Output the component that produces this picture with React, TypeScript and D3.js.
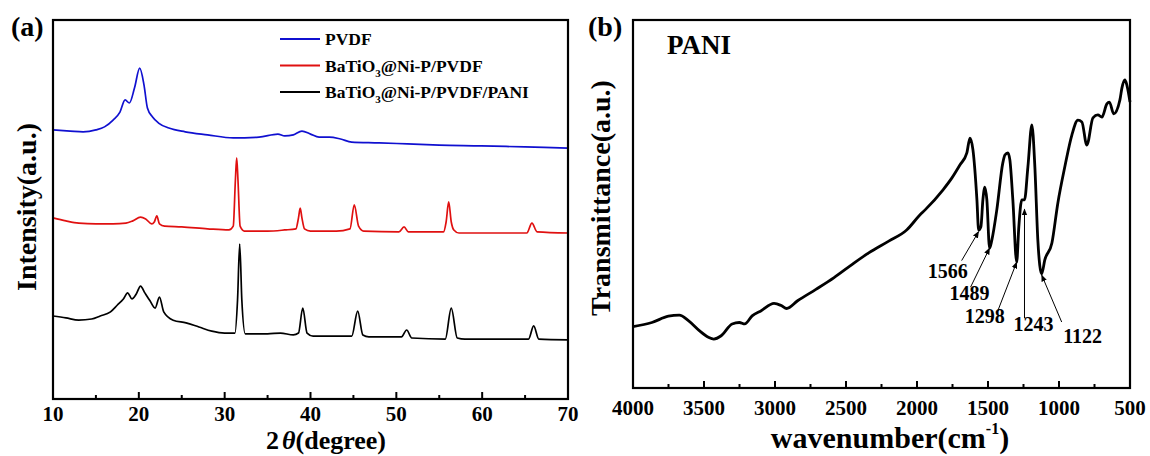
import React from "react";
import * as d3 from "d3";

const W = 1150;
const H = 456;
const FONT = "'Liberation Serif', 'Times New Roman', serif";

// ---- (a) XRD patterns: 2θ (degree) and stacked intensity (a.u.) ----
const pvdfTheta = [10, 12, 13.5, 15, 16, 17, 17.8, 18.4, 18.9, 19.5, 20.1, 20.6, 21, 21.6, 22.3, 23.5, 25.4, 28, 31, 34, 36.2, 37, 38, 39, 40, 41, 42.2, 43.5, 44.8, 48, 51.3, 55, 59.9, 65, 70];
const pvdfInt = [71.0, 70.7, 70.5, 71.0, 71.8, 73.6, 75.7, 78.9, 78.1, 82.1, 87.3, 82.9, 76.8, 74.4, 72.8, 71.5, 70.5, 69.7, 68.9, 69.1, 69.9, 69.4, 69.7, 70.7, 69.9, 69.1, 69.1, 68.6, 67.8, 67.6, 67.3, 67.0, 66.8, 66.5, 66.2];

const btoTheta = [10, 11.5, 13, 15, 17, 18.5, 19.3, 20.2, 20.8, 21.5, 21.8, 22.1, 22.4, 23, 25, 28, 30.5, 31.0, 31.25, 31.4, 31.55, 31.8, 32.3, 35, 37, 38.3, 38.6, 38.8, 39.0, 39.3, 40, 43, 44.6, 45.1, 45.6, 46.2, 50.3, 50.9, 51.4, 55.5, 55.8, 56.1, 56.4, 56.7, 57.3, 65.2, 65.8, 66.4, 70];
const btoInt = [47.8, 47.0, 46.4, 46.2, 46.2, 46.4, 47.0, 48.0, 47.5, 46.2, 46.7, 48.3, 46.2, 45.6, 45.4, 44.9, 44.6, 45.6, 57.8, 63.6, 57.8, 45.6, 44.3, 44.3, 44.6, 44.9, 47.8, 50.4, 47.8, 44.9, 44.3, 44.3, 44.9, 51.2, 45.6, 44.3, 44.1, 45.4, 44.1, 44.1, 46.7, 52.0, 46.7, 44.6, 43.8, 43.8, 46.4, 44.1, 43.8];

const paniTheta = [10, 11.5, 13, 14.5, 15.5, 16.7, 17.5, 18.2, 18.7, 19.2, 19.7, 20.2, 20.7, 21.3, 21.9, 22.4, 22.9, 24, 25.5, 27, 28.5, 30, 31.2, 31.5, 31.75, 32.0, 32.4, 35, 36.5, 38, 38.6, 39.1, 39.6, 40.3, 44.8, 45.5, 46.1, 46.8, 50.6, 51.2, 51.8, 55.7, 56.4, 57.1, 58, 65.4, 66.0, 66.6, 70];
const paniInt = [21.9, 21.4, 20.8, 21.1, 21.9, 23.0, 24.8, 26.4, 28.0, 26.4, 27.7, 29.8, 28.0, 25.9, 24.0, 26.9, 23.0, 20.8, 20.1, 19.0, 17.9, 17.4, 17.4, 26.1, 40.9, 26.1, 17.2, 17.2, 17.4, 16.9, 17.4, 24.0, 17.4, 16.6, 16.6, 23.2, 16.9, 16.4, 16.4, 18.2, 16.1, 15.8, 24.0, 16.1, 15.8, 15.8, 19.3, 15.8, 15.6];

const xrdSeries = [
  { name: "PVDF", color: "#1010d0", theta: pvdfTheta, value: pvdfInt },
  { name: "BaTiO3@Ni-P/PVDF", color: "#e01010", theta: btoTheta, value: btoInt },
  { name: "BaTiO3@Ni-P/PVDF/PANI", color: "#000000", theta: paniTheta, value: paniInt },
];

const xrdMajorTicks = [10, 20, 30, 40, 50, 60, 70];
const xrdMinorTicks = [15, 25, 35, 45, 55, 65];

// ---- (b) FTIR spectrum of PANI ----
const ftirWave = [4000, 3867, 3751, 3674, 3610, 3533, 3469, 3431, 3379, 3302, 3251, 3213, 3161, 3097, 3007, 2956, 2918, 2841, 2712, 2584, 2456, 2340, 2199, 2071, 1980, 1943, 1818, 1754, 1698, 1649, 1627, 1606, 1578, 1566, 1550, 1536, 1522, 1508, 1489, 1473, 1438, 1396, 1381, 1360, 1346, 1325, 1298, 1283, 1262, 1243, 1219, 1191, 1170, 1149, 1122, 1100, 1050, 1008, 959, 909, 867, 839, 804, 761, 726, 698, 663, 645, 615, 571, 557, 536, 522, 500];
const ftirTrans = [16.7, 17.8, 19.5, 19.8, 18.3, 15.6, 13.8, 13.3, 14.2, 17.4, 17.8, 17.4, 19.6, 21.0, 23.0, 22.4, 21.6, 23.7, 26.8, 30.0, 33.6, 36.7, 39.9, 43.0, 47.0, 48.4, 53.8, 57.1, 60.6, 63.9, 67.9, 64.7, 51.1, 42.9, 43.8, 51.1, 54.6, 51.1, 38.0, 40.2, 48.4, 61.1, 63.3, 63.9, 62.0, 51.1, 34.2, 43.8, 51.1, 51.1, 60.1, 71.5, 60.1, 40.2, 31.0, 34.8, 39.4, 50.3, 60.1, 68.8, 72.8, 72.3, 66.0, 73.4, 74.2, 73.6, 77.2, 77.7, 74.5, 78.3, 81.5, 83.7, 82.3, 77.7];

const ftirMajorTicks = [4000, 3500, 3000, 2500, 2000, 1500, 1000, 500];
const ftirMinorTicks = [3750, 3250, 2750, 2250, 1750, 1250, 750];

// marked absorption bands and the transmittance at each arrow tip
const bandLabels = ["1566", "1489", "1298", "1243", "1122"];
const bandWave = [1566, 1489, 1298, 1243, 1122];
const bandTipValue = [42.5, 38.0, 34.2, 48.6, 30.7];

// arrow tail and label offsets (px) relative to each arrow tip
const bandLayout = [
  { tx: -17, ty: 29, lx: -31, ly: 46 },
  { tx: -19, ty: 39, lx: -20, ly: 52 },
  { tx: -19, ty: 49, lx: -32, ly: 61 },
  { tx: 0, ty: 109, lx: 9, ly: 122 },
  { tx: 20, ty: 47, lx: 41, ly: 68 },
];

// plot frames
const A = { left: 53, right: 568, top: 20, bottom: 399 };
const B = { left: 633, right: 1130, top: 20, bottom: 388 };

export default function App() {
  const xA = d3.scaleLinear().domain([10, 70]).range([A.left, A.right]);
  const yA = d3.scaleLinear().domain([0, 100]).range([A.bottom, A.top]);
  const xB = d3.scaleLinear().domain([4000, 500]).range([B.left, B.right]);
  const yB = d3.scaleLinear().domain([0, 100]).range([B.bottom, B.top]);

  const lineA = (theta: number[], value: number[]) =>
    d3
      .line<number>()
      .x((_, i) => xA(theta[i]))
      .y((v) => yA(v))
      .curve(d3.curveMonotoneX)(value) || "";

  const ftirPath =
    d3
      .line<number>()
      .x((_, i) => xB(ftirWave[i]))
      .y((v) => yB(v))
      .curve(d3.curveMonotoneX)(ftirTrans) || "";

  const tickLabelStyle = { fontFamily: FONT, fontWeight: 700, fontSize: 21 } as const;
  const titleStyle = { fontFamily: FONT, fontWeight: 700, fontSize: 28 } as const;

  return (
    <svg
      width={W}
      height={H}
      viewBox={`0 0 ${W} ${H}`}
      style={{ position: "absolute", left: 0, top: 0, background: "#fff" }}
    >
      <defs>
        <marker id="arrowHead" viewBox="0 0 10 10" refX="9" refY="5" markerWidth="7" markerHeight="7" orient="auto" markerUnits="userSpaceOnUse">
          <path d="M0,1 L10,5 L0,9 Z" fill="#000" />
        </marker>
      </defs>
      <rect x={0} y={0} width={W} height={H} fill="#fff" />

      {/* ---------- panel (a) ---------- */}
      <g>
        {xrdSeries.map((s) => (
          <path key={s.name} d={lineA(s.theta, s.value)} fill="none" stroke={s.color} strokeWidth={1.7} strokeLinejoin="round" />
        ))}
        <rect x={A.left} y={A.top} width={A.right - A.left} height={A.bottom - A.top} fill="none" stroke="#000" strokeWidth={2.2} />
        {xrdMajorTicks.map((t) => (
          <g key={`am${t}`}>
            <line x1={xA(t)} x2={xA(t)} y1={A.bottom} y2={A.bottom - 7} stroke="#000" strokeWidth={2} />
            <text x={xA(t)} y={421} textAnchor="middle" {...tickLabelStyle}>
              {t}
            </text>
          </g>
        ))}
        {xrdMinorTicks.map((t) => (
          <line key={`an${t}`} x1={xA(t)} x2={xA(t)} y1={A.bottom} y2={A.bottom - 4} stroke="#000" strokeWidth={2} />
        ))}
        <text x={326} y={449} textAnchor="middle" {...titleStyle} fontSize={26}>
          <tspan>2</tspan>
          <tspan fontStyle="italic" dx={3}>θ</tspan>
          <tspan>(degree)</tspan>
        </text>
        <text transform={`translate(36,207) rotate(-90)`} textAnchor="middle" {...titleStyle}>
          Intensity(a.u.)
        </text>
        <text x={11} y={36} fontFamily={FONT} fontWeight={700} fontSize={28}>
          (a)
        </text>

        {/* legend */}
        {xrdSeries.map((s, i) => {
          const y = 39 + i * 26.5;
          const sub = s.name.indexOf("3");
          return (
            <g key={`lg${s.name}`}>
              <line x1={280} x2={320} y1={y} y2={y} stroke={s.color} strokeWidth={2} />
              <text x={325} y={y + 6} fontFamily={FONT} fontWeight={700} fontSize={17.5}>
                {sub < 0 ? (
                  s.name
                ) : (
                  <>
                    <tspan>{s.name.slice(0, sub)}</tspan>
                    <tspan fontSize={11} dy={5}>3</tspan>
                    <tspan dy={-5}>{s.name.slice(sub + 1)}</tspan>
                  </>
                )}
              </text>
            </g>
          );
        })}
      </g>

      {/* ---------- panel (b) ---------- */}
      <g>
        <path d={ftirPath} fill="none" stroke="#000" strokeWidth={2.8} strokeLinejoin="round" />
        <rect x={B.left} y={B.top} width={B.right - B.left} height={B.bottom - B.top} fill="none" stroke="#000" strokeWidth={2.2} />
        {ftirMajorTicks.map((t) => (
          <g key={`bm${t}`}>
            <line x1={xB(t)} x2={xB(t)} y1={B.bottom} y2={B.bottom - 7} stroke="#000" strokeWidth={2} />
            <text x={xB(t)} y={415} textAnchor="middle" {...tickLabelStyle}>
              {t}
            </text>
          </g>
        ))}
        {ftirMinorTicks.map((t) => (
          <line key={`bn${t}`} x1={xB(t)} x2={xB(t)} y1={B.bottom} y2={B.bottom - 4} stroke="#000" strokeWidth={2} />
        ))}
        <text x={890} y={448} textAnchor="middle" {...titleStyle} fontSize={30}>
          <tspan>wavenumber(cm</tspan>
          <tspan fontSize={16} dy={-14}>-1</tspan>
          <tspan dy={14}>)</tspan>
        </text>
        <text transform={`translate(610,198) rotate(-90)`} textAnchor="middle" {...titleStyle}>
          Transmittance(a.u.)
        </text>
        <text x={588} y={36} fontFamily={FONT} fontWeight={700} fontSize={28}>
          (b)
        </text>
        <text x={667} y={54} fontFamily={FONT} fontWeight={700} fontSize={27}>
          PANI
        </text>

        {bandWave.map((wn, i) => {
          const tipX = xB(wn);
          const tipY = yB(bandTipValue[i]);
          const L = bandLayout[i];
          return (
            <g key={`band${wn}`}>
              <line x1={tipX + L.tx} y1={tipY + L.ty} x2={tipX} y2={tipY} stroke="#000" strokeWidth={1} markerEnd="url(#arrowHead)" />
              <text x={tipX + L.lx} y={tipY + L.ly} textAnchor="middle" fontFamily={FONT} fontWeight={700} fontSize={20}>
                {bandLabels[i]}
              </text>
            </g>
          );
        })}
      </g>
    </svg>
  );
}
